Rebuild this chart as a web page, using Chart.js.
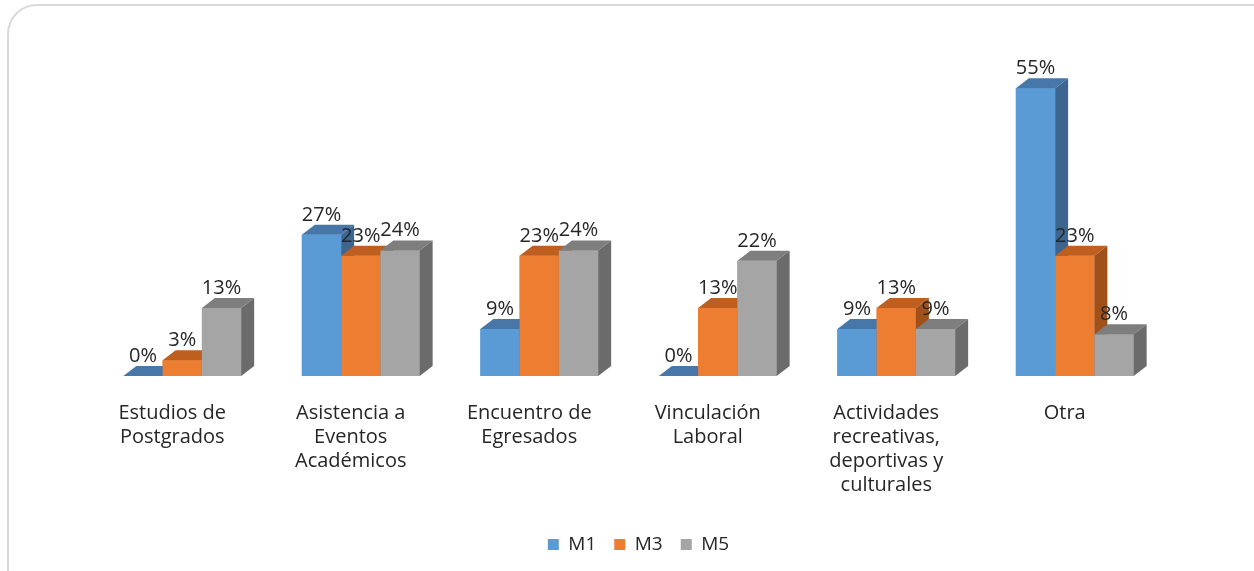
<!DOCTYPE html>
<html>
<head>
<meta charset="utf-8">
<script src="https://cdn.jsdelivr.net/npm/chart.js@4"></script>
<style>
  html, body { margin: 0; padding: 0; background: #fff; overflow: hidden; }
  #frame {
    position: absolute; left: 7px; top: 4px; width: 1300px; height: 620px;
    border: 2px solid #d9d9d9; border-radius: 30px; box-sizing: border-box;
  }
  #wrap { position: absolute; left: 0; top: 0; width: 1254px; height: 571px; }
</style>
</head>
<body>
<div id="frame"></div>
<div id="wrap"><canvas id="myChart"></canvas></div>
<script>
const categories = [
  ["Estudios de", "Postgrados"],
  ["Asistencia a", "Eventos", "Académicos"],
  ["Encuentro de", "Egresados"],
  ["Vinculación", "Laboral"],
  ["Actividades", "recreativas,", "deportivas y", "culturales"],
  ["Otra"],
];
const seriesNames = ["M1", "M3", "M5"];
const m1 = [0, 27, 9, 0, 9, 55];
const m3 = [3, 23, 23, 13, 13, 23];
const m5 = [13, 24, 24, 22, 9, 8];

const frontColors = ["#5b9bd5", "#ed7d31", "#a5a5a5"];
const topColors = ["#4677a8", "#bf5f1f", "#7e7e7e"];
const sideColors = ["#3c6690", "#a0511a", "#6b6b6b"];
const fontFamily = "'Open Sans', sans-serif";

// depth of the fake 3D boxes
const DX = 13, DY = -10;

const box3d = {
  id: "box3d",
  afterLayout(chart) {
    // nudge the legend a little right, as in the original
    chart.legend.left += 10;
    chart.legend.right += 10;
  },
  afterDatasetsDraw(chart) {
    const ctx = chart.ctx;
    const metas = chart.data.datasets.map((d, i) => chart.getDatasetMeta(i));
    ctx.save();
    for (let j = 0; j < categories.length; j++) {
      metas.forEach((meta, i) => {
        const bar = meta.data[j];
        const l = bar.x - bar.width / 2, r = bar.x + bar.width / 2;
        const t = bar.y, b = bar.base;
        ctx.fillStyle = frontColors[i];
        ctx.fillRect(l, t, r - l, b - t);
        ctx.fillStyle = topColors[i];
        ctx.beginPath();
        ctx.moveTo(l, t); ctx.lineTo(l + DX, t + DY);
        ctx.lineTo(r + DX, t + DY); ctx.lineTo(r, t);
        ctx.closePath(); ctx.fill();
        ctx.fillStyle = sideColors[i];
        ctx.beginPath();
        ctx.moveTo(r, t); ctx.lineTo(r + DX, t + DY);
        ctx.lineTo(r + DX, b + DY); ctx.lineTo(r, b);
        ctx.closePath(); ctx.fill();
      });
    }
    ctx.fillStyle = "#262626";
    ctx.font = "20px " + fontFamily;
    ctx.textAlign = "center";
    ctx.textBaseline = "alphabetic";
    metas.forEach((meta, i) => {
      meta.data.forEach((bar, j) => {
        const v = chart.data.datasets[i].data[j];
        ctx.fillText(v + "%", bar.x, bar.y - 14);
      });
    });
    ctx.restore();
  },
};

const ctx = document.getElementById("myChart").getContext("2d");
const myChart = new Chart(ctx, {
  type: "bar",
  data: {
    labels: categories,
    datasets: [
      { label: seriesNames[0], data: m1, backgroundColor: frontColors[0] },
      { label: seriesNames[1], data: m3, backgroundColor: frontColors[1] },
      { label: seriesNames[2], data: m5, backgroundColor: frontColors[2] },
    ],
  },
  options: {
    responsive: true,
    maintainAspectRatio: false,
    animation: false,
    categoryPercentage: 0.66,
    barPercentage: 1,
    layout: { padding: { top: 62, left: 93, right: 90, bottom: 7 } },
    plugins: {
      legend: {
        position: "bottom",
        labels: {
          boxWidth: 11,
          boxHeight: 11,
          padding: 18,
          color: "#262626",
          font: { family: fontFamily, size: 19 },
        },
      },
      tooltip: { enabled: false },
    },
    scales: {
      x: {
        grid: { display: false },
        border: { display: false },
        ticks: {
          color: "#262626",
          font: { family: fontFamily, size: 20, lineHeight: 1.2 },
          padding: 17,
          labelOffset: -10,
          maxRotation: 0,
          autoSkip: false,
        },
        afterFit(scale) { scale.height = 141; },
      },
      y: { display: false, min: 0, max: 60 },
    },
  },
  plugins: [box3d],
});
</script>
</body>
</html>
